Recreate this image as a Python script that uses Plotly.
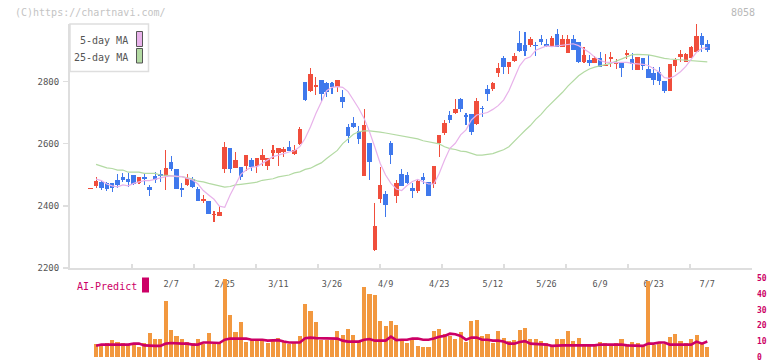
import plotly.graph_objects as go
import pandas as pd

# ---------------- data ----------------
jp_holidays = ["2025-02-11", "2025-02-24", "2025-03-20", "2025-04-29", "2025-05-05", "2025-05-06"]
trade_days = [d.strftime("%Y-%m-%d") for d in
              pd.bdate_range("2025-01-17", "2025-07-07", freq="C", holidays=jp_holidays)]

label_dates = ["2025-02-07", "2025-02-25", "2025-03-11", "2025-03-26", "2025-04-09", "2025-04-23",
               "2025-05-12", "2025-05-26", "2025-06-09", "2025-06-23", "2025-07-07"]
label_text = ["2/7", "2/25", "3/11", "3/26", "4/9", "4/23", "5/12", "5/26", "6/9", "6/23", "7/7"]

opens = [2453, 2464, 2475, 2472, 2473, 2483, 2493, 2486, 2498, 2472, 2494, 2460, 2497, 2501, 2497,
         2542, 2518, 2457, 2467, 2486, 2454, 2416, 2415, 2370, 2368, 2518, 2586, 2522, 2525, 2528,
         2547, 2528, 2547, 2529, 2569, 2569, 2574, 2588, 2568, 2600, 2797, 2769, 2781, 2804, 2794,
         2794, 2783, 2751, 2652, 2667, 2641, 2497, 2601, 2258, 2421, 2438, 2603, 2432, 2502, 2499,
         2457, 2448, 2494, 2475, 2470, 2603, 2635, 2692, 2699, 2743, 2690, 2695, 2663, 2714, 2775,
         2775, 2828, 2876, 2847, 2867, 2922, 2917, 2917, 2917, 2936, 2920, 2915, 2952, 2912, 2892,
         2936, 2927, 2862, 2869, 2860, 2874, 2850, 2873, 2855, 2860, 2886, 2871, 2837, 2876, 2840,
         2828, 2830, 2801, 2769, 2849, 2879, 2861, 2874, 2893, 2946, 2920]
highs = [2453, 2492, 2480, 2475, 2474, 2501, 2504, 2504, 2498, 2494, 2504, 2467, 2510, 2515, 2579,
         2560, 2518, 2472, 2501, 2494, 2461, 2435, 2415, 2383, 2400, 2606, 2586, 2572, 2525, 2562,
         2553, 2553, 2583, 2555, 2595, 2585, 2588, 2607, 2595, 2654, 2797, 2842, 2815, 2804, 2799,
         2799, 2804, 2772, 2662, 2684, 2658, 2711, 2601, 2408, 2524, 2447, 2608, 2483, 2518, 2510,
         2474, 2483, 2504, 2475, 2528, 2628, 2676, 2706, 2743, 2746, 2697, 2695, 2748, 2721, 2788,
         2799, 2858, 2882, 2863, 2892, 2962, 2958, 2942, 2928, 2949, 2936, 2946, 2968, 2949, 2949,
         2949, 2927, 2912, 2885, 2882, 2893, 2888, 2893, 2871, 2860, 2901, 2890, 2879, 2876, 2885,
         2847, 2847, 2801, 2856, 2876, 2901, 2892, 2914, 2984, 2954, 2933]
lows = [2453, 2456, 2451, 2447, 2443, 2458, 2476, 2461, 2467, 2469, 2467, 2432, 2474, 2478, 2451,
        2512, 2455, 2429, 2464, 2458, 2416, 2408, 2373, 2349, 2368, 2506, 2506, 2522, 2483, 2513,
        2513, 2506, 2528, 2515, 2549, 2528, 2558, 2576, 2563, 2597, 2737, 2765, 2756, 2738, 2751,
        2761, 2765, 2713, 2601, 2649, 2599, 2497, 2483, 2256, 2410, 2365, 2534, 2410, 2465, 2470,
        2426, 2442, 2470, 2432, 2456, 2558, 2628, 2667, 2695, 2703, 2660, 2628, 2660, 2686, 2738,
        2769, 2815, 2824, 2824, 2863, 2896, 2882, 2912, 2882, 2917, 2912, 2912, 2912, 2912, 2890,
        2901, 2860, 2860, 2849, 2858, 2845, 2850, 2847, 2840, 2815, 2871, 2837, 2837, 2837, 2812,
        2788, 2788, 2764, 2769, 2831, 2863, 2861, 2874, 2893, 2895, 2895]
closes = [2453, 2480, 2458, 2454, 2456, 2467, 2483, 2478, 2471, 2491, 2487, 2452, 2484, 2496, 2522,
          2518, 2455, 2452, 2490, 2460, 2416, 2422, 2375, 2372, 2379, 2588, 2519, 2547, 2493, 2562,
          2526, 2553, 2562, 2555, 2581, 2585, 2582, 2576, 2579, 2647, 2740, 2824, 2788, 2761, 2765,
          2783, 2804, 2735, 2625, 2652, 2614, 2660, 2542, 2336, 2467, 2402, 2563, 2472, 2465, 2472,
          2449, 2480, 2483, 2432, 2528, 2628, 2665, 2676, 2711, 2712, 2687, 2638, 2737, 2711, 2759,
          2796, 2844, 2847, 2863, 2882, 2898, 2899, 2936, 2913, 2928, 2915, 2938, 2912, 2936, 2936,
          2901, 2862, 2885, 2860, 2874, 2845, 2853, 2879, 2860, 2844, 2892, 2856, 2879, 2849, 2812,
          2804, 2801, 2769, 2856, 2869, 2888, 2888, 2912, 2946, 2917, 2901]

ma5 = [None, 2486, 2481, 2470, 2464, 2461, 2467, 2464, 2472, 2477, 2481, 2481, 2485, 2491, 2494,
       2496, 2494, 2494, 2488, 2483, 2470, 2449, 2435, 2421, 2399, 2395, 2435, 2467, 2501, 2515,
       2524, 2526, 2536, 2547, 2558, 2563, 2569, 2573, 2577, 2590, 2617, 2654, 2697, 2735, 2770,
       2781, 2783, 2781, 2767, 2740, 2713, 2681, 2638, 2588, 2536, 2499, 2472, 2454, 2449, 2465,
       2478, 2485, 2478, 2470, 2470, 2504, 2547, 2585, 2601, 2628, 2644, 2676, 2692, 2696, 2700,
       2710, 2722, 2740, 2770, 2810, 2850, 2872, 2879, 2900, 2908, 2914, 2912, 2914, 2917, 2920,
       2921, 2915, 2905, 2893, 2878, 2867, 2862, 2860, 2860, 2861, 2861, 2858, 2857, 2855, 2851,
       2840, 2830, 2812, 2810, 2818, 2831, 2848, 2870, 2894, 2906, 2909]
ma25 = [None, 2533, 2528, 2522, 2520, 2515, 2515, 2508, 2508, 2508, 2504, 2504, 2504, 2499, 2499,
        2497, 2494, 2494, 2490, 2486, 2479, 2477, 2472, 2468, 2464, 2460, 2462, 2467, 2469, 2472,
        2474, 2476, 2482, 2485, 2487, 2493, 2496, 2499, 2506, 2509, 2517, 2521, 2530, 2538, 2552,
        2566, 2578, 2600, 2614, 2630, 2638, 2641, 2641, 2640, 2637, 2634, 2631, 2628, 2624, 2620,
        2617, 2615, 2609, 2606, 2603, 2599, 2590, 2584, 2581, 2576, 2574, 2569, 2563, 2563, 2565,
        2568, 2574, 2580, 2590, 2606, 2625, 2642, 2658, 2678, 2694, 2714, 2730, 2746, 2765, 2785,
        2803, 2818, 2830, 2840, 2846, 2851, 2854, 2858, 2865, 2870, 2879, 2886, 2887, 2887, 2885,
        2882, 2877, 2874, 2872, 2871, 2870, 2869, 2867, 2866, 2864, 2863]

volume = [None, 8.6, 8.0, 9.3, 11.1, 9.9, 9.1, 8.4, 8.4, 6.5, 9.3, 15.6, 11.8, 11.8, 35.9,
          17.4, 13.7, 11.8, 9.9, 9.3, 11.8, 8.6, 15.6, 8.6, 9.9, 49.6, 26.9, 15.8, 22.0, 9.9,
          11.8, 11.8, 11.1, 9.3, 11.1, 12.4, 9.9, 8.6, 9.3, 13.7, 33.4, 29.4, 22.5, 11.1, 11.1,
          11.1, 16.4, 13.9, 18.1, 14.3, 10.5, 44.5, 40.1, 39.7, 23.1, 20.0, 23.1, 20.6, 11.1, 9.3,
          11.1, 7.4, 6.7, 6.7, 16.8, 18.1, 14.9, 13.7, 11.8, 16.2, 9.5, 23.1, 23.7, 13.7, 14.9,
          9.3, 16.8, 12.4, 10.5, 11.1, 17.4, 18.7, 11.8, 11.8, 10.5, 9.3, 8.0, 11.8, 11.8, 16.8,
          10.5, 12.4, 8.6, 8.0, 7.4, 9.9, 9.3, 8.0, 9.3, 11.8, 8.6, 9.9, 9.3, 7.4, 48.3,
          8.0, 9.9, 8.6, 13.0, 14.9, 10.5, 9.3, 11.8, 14.3, 9.3, 6.7]
ai_predict = [None, 7.2, 8.0, 8.0, 8.0, 8.0, 8.0, 8.0, 8.6, 8.6, 7.5, 7.2, 7.2, 7.2, 8.6,
              9.0, 8.6, 8.6, 8.6, 8.0, 8.0, 9.3, 9.3, 9.3, 9.0, 11.1, 11.8, 11.8, 11.8, 11.8,
              11.1, 11.1, 11.1, 10.5, 10.5, 10.8, 9.9, 9.3, 9.3, 9.3, 12.0, 12.4, 12.1, 12.1, 12.1,
              12.1, 11.8, 10.5, 9.9, 9.9, 9.9, 11.1, 11.5, 10.5, 10.5, 10.5, 13.0, 10.8, 11.1, 11.1,
              11.8, 11.8, 11.1, 11.1, 11.8, 12.9, 13.5, 14.9, 14.5, 13.5, 11.1, 12.4, 12.4, 11.1, 11.1,
              10.5, 10.5, 9.9, 8.6, 8.6, 9.6, 10.2, 8.6, 8.3, 8.3, 8.0, 7.2, 7.5, 7.5, 7.5,
              7.5, 7.5, 7.5, 7.5, 7.5, 8.0, 8.0, 8.0, 8.0, 8.0, 7.5, 7.5, 7.2, 7.2, 8.6,
              8.6, 9.3, 9.3, 8.0, 8.0, 8.0, 8.0, 8.0, 9.9, 8.6, 9.9]

price_ticks = [2200, 2400, 2600, 2800]
volume_ticks = [0, 10, 20, 30, 40, 50]

# ---------------- styles ----------------
RED = "#f04e3c"
BLUE = "#3f78ec"
ORANGE = "#f2983f"
MAGENTA = "#cc0066"
PINK = "#e8b2ea"
GREEN = "#b3daa3"
AXIS = "#dedede"
FONT = "DejaVu Sans Mono"
W, H = 772, 361
L_MARGIN, R_MARGIN = 70, 20
PLOT_W = W - L_MARGIN - R_MARGIN


def px_x(px):
    return (px - L_MARGIN) / PLOT_W


def px_y(py):
    return 1 - py / H


colors = [RED if c >= o else BLUE for o, c in zip(opens, closes)]
body_base = [min(o, c) for o, c in zip(opens, closes)]
body_h = [max(abs(c - o), 3.5) for o, c in zip(opens, closes)]
wick_h = [h - l for h, l in zip(highs, lows)]

fig = go.Figure()

fig.add_trace(go.Scatter(x=trade_days, y=ma25, mode="lines", line=dict(color=GREEN, width=1.2),
                         xaxis="x", yaxis="y", showlegend=False, hoverinfo="skip"))
fig.add_trace(go.Scatter(x=trade_days, y=ma5, mode="lines", line=dict(color=PINK, width=1.2),
                         xaxis="x", yaxis="y", showlegend=False, hoverinfo="skip"))
fig.add_trace(go.Bar(x=trade_days, y=wick_h, base=lows, width=0.2, marker=dict(color=colors, line=dict(width=0)),
                     xaxis="x", yaxis="y", showlegend=False))
fig.add_trace(go.Bar(x=trade_days, y=body_h, base=body_base, width=0.84,
                     marker=dict(color=colors, line=dict(width=0)),
                     xaxis="x", yaxis="y", showlegend=False))

fig.add_trace(go.Bar(x=trade_days, y=volume, width=0.76, marker=dict(color=ORANGE, line=dict(width=0)),
                     xaxis="x2", yaxis="y2", showlegend=False))
fig.add_trace(go.Scatter(x=trade_days, y=ai_predict, mode="lines", line=dict(color=MAGENTA, width=2.6),
                         xaxis="x2", yaxis="y2", showlegend=False, hoverinfo="skip"))

# dummy trace for the tick-mark axis
fig.add_trace(go.Scatter(x=[None], y=[None], xaxis="x3", yaxis="y", showlegend=False, hoverinfo="skip"))

n = len(trade_days)
x_lo = -20.7 / 5.36
x_hi = (n - 1) + (752 - 707.3) / 5.36
xr = [x_lo, x_hi]

main_dom = [px_y(268), px_y(24)]
vol_dom = [px_y(357.2), px_y(278.3)]

fig.update_layout(
    width=W, height=H,
    margin=dict(l=L_MARGIN, r=R_MARGIN, t=0, b=0, pad=0, autoexpand=False),
    paper_bgcolor="white", plot_bgcolor="white",
    barmode="overlay", bargap=0, hovermode=False,
    font=dict(family=FONT, color="#555555", size=10),
    showlegend=False,
    xaxis=dict(type="category", categoryorder="array", categoryarray=trade_days, range=xr,
               domain=[0, 1], anchor="y", showline=True, linecolor=AXIS, linewidth=2,
               showgrid=False, zeroline=False, ticks="", tickmode="array", automargin=False,
               tickvals=label_dates, ticktext=label_text, ticklabelstandoff=7,
               tickfont=dict(family=FONT, size=8.5, color="#555555")),
    xaxis3=dict(type="linear", range=[0, 11], overlaying="x", anchor="y", tickmode="linear",
                tick0=0, dtick=1, ticks="inside", ticklen=4, tickwidth=1.5, tickcolor=AXIS,
                automargin=False,
                showticklabels=False, showline=False, showgrid=False, zeroline=False),
    yaxis=dict(domain=main_dom, range=[2200, 2984.5], anchor="x", showline=True, linecolor=AXIS,
               linewidth=2, showgrid=False, zeroline=False, ticks="outside", ticklen=5,
               automargin=False,
               tickcolor=AXIS, tickwidth=1.5, tickmode="array", tickvals=price_ticks,
               tickfont=dict(family=FONT, size=9, color="#555555"), ticklabelstandoff=2),
    xaxis2=dict(type="category", categoryorder="array", categoryarray=trade_days, range=xr,
                domain=[0, 1], anchor="y2", showline=False, showgrid=False, zeroline=False,
                automargin=False, showticklabels=False, ticks=""),
    yaxis2=dict(domain=vol_dom, range=[0, 50], anchor="x2", side="right", showline=False,
                showgrid=False, zeroline=False, ticks="", tickmode="array", tickvals=volume_ticks,
                automargin=False, ticklabeloverflow="allow",
                tickfont=dict(family=FONT, size=8, color=MAGENTA, weight="bold"),
                ticklabelstandoff=4),
)

# legend box for the moving averages
fig.add_shape(type="rect", xref="paper", yref="paper", x0=px_x(70), x1=px_x(148.5),
              y0=px_y(71.5), y1=px_y(24), line=dict(color=AXIS, width=1.5), fillcolor="white",
              layer="above")
fig.add_shape(type="rect", xref="paper", yref="paper", x0=px_x(136.5), x1=px_x(142.5),
              y0=px_y(46.5), y1=px_y(31.5), line=dict(color="#555555", width=1), fillcolor=PINK,
              layer="above")
fig.add_shape(type="rect", xref="paper", yref="paper", x0=px_x(136.5), x1=px_x(142.5),
              y0=px_y(63), y1=px_y(48.5), line=dict(color="#555555", width=1), fillcolor=GREEN,
              layer="above")
fig.add_annotation(text="5-day MA", xref="paper", yref="paper", x=px_x(130), y=px_y(40.5),
                   xanchor="right", yanchor="middle", showarrow=False,
                   font=dict(family=FONT, size=10, color="#555555"))
fig.add_annotation(text="25-day MA", xref="paper", yref="paper", x=px_x(130), y=px_y(57),
                   xanchor="right", yanchor="middle", showarrow=False,
                   font=dict(family=FONT, size=10, color="#555555"))

# AI-Predict label
fig.add_annotation(text="AI-Predict", xref="paper", yref="paper", x=px_x(75), y=px_y(286),
                   xanchor="left", yanchor="middle", showarrow=False,
                   font=dict(family=FONT, size=10, color=MAGENTA))
fig.add_shape(type="rect", xref="paper", yref="paper", x0=px_x(142), x1=px_x(149),
              y0=px_y(292.5), y1=px_y(277.5), line=dict(width=0), fillcolor=MAGENTA)

# watermark and code
fig.add_annotation(text="(C)https://chartnavi.com/", xref="paper", yref="paper", x=px_x(13),
                   y=px_y(12.5), xanchor="left", yanchor="middle", showarrow=False,
                   font=dict(family=FONT, size=10, color="#c4c4c4"))
fig.add_annotation(text="8058", xref="paper", yref="paper", x=px_x(757), y=px_y(12.5),
                   xanchor="right", yanchor="middle", showarrow=False,
                   font=dict(family=FONT, size=10, color="#b8b8b8"))

fig.write_html("out.html", config={"displayModeBar": False, "staticPlot": True},
               post_script="document.body.style.margin='0';document.body.style.overflow='hidden';")
